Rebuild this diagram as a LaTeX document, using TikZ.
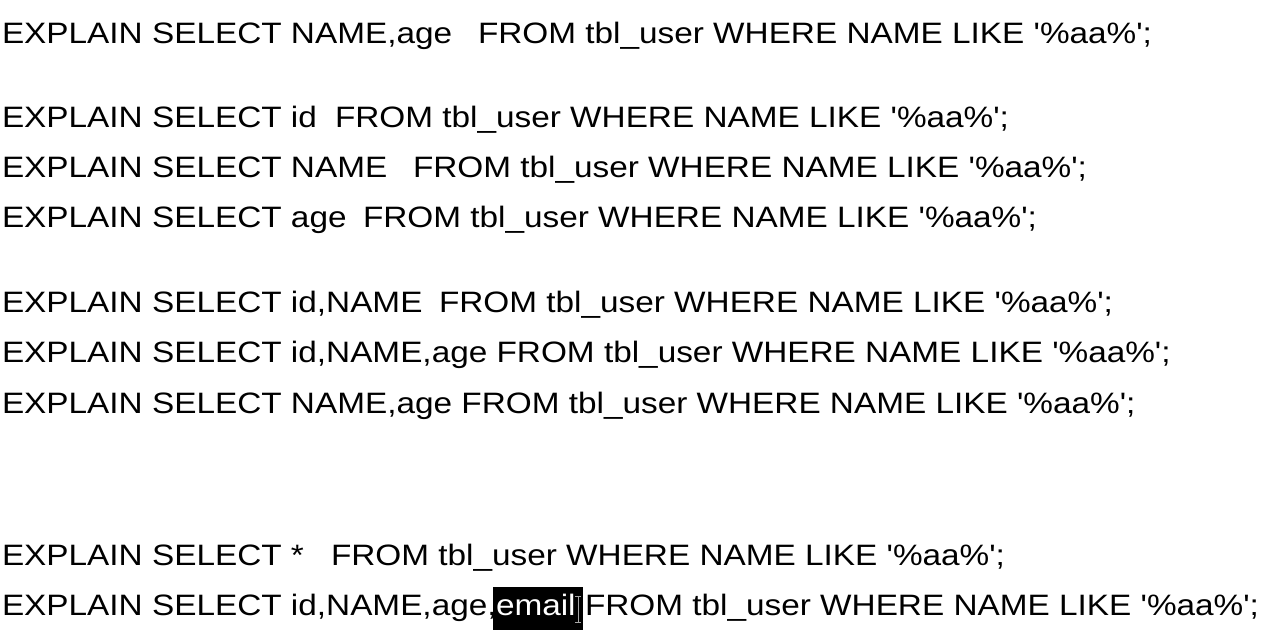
\documentclass[tikz,border=0pt]{standalone}
\usepackage{fontspec}
\setmainfont{Liberation Sans}[FakeStretch=1.13,Ligatures=TeXOff]
\begin{document}
\begin{tikzpicture}[x=1pt,y=-1pt,
  sql/.style={anchor=base west,inner sep=0pt,outer sep=0pt,font=\fontsize{29.5}{31}\selectfont}]
\useasboundingbox[fill=white] (0,0) rectangle (1272,630);
\newcommand\rest{FROM tbl\_user WHERE NAME LIKE '\%aa\%';}
\node[sql] (l1) at (2,43) {EXPLAIN SELECT NAME,age};
\node[sql] (r1) at (478,43) {\rest};
\node[sql] (l2) at (2,127) {EXPLAIN SELECT id};
\node[sql] (r2) at (335,127) {\rest};
\node[sql] (l3) at (2,177) {EXPLAIN SELECT NAME};
\node[sql] (r3) at (413,177) {\rest};
\node[sql] (l4) at (2,227) {EXPLAIN SELECT age};
\node[sql] (r4) at (363,227) {\rest};
\node[sql] (l5) at (2,312) {EXPLAIN SELECT id,NAME};
\node[sql] (r5) at (439,312) {\rest};
\node[sql] (l6) at (2,362) {EXPLAIN SELECT id,NAME,age \rest};
\node[sql] (l7) at (2,413) {EXPLAIN SELECT NAME,age \rest};
\node[sql] (l8) at (2,565) {EXPLAIN SELECT *};
\node[sql] (r8) at (331,565) {\rest};
\node[sql] (l9) at (2,615) {EXPLAIN SELECT id,NAME,age,};
\fill[black] (493,587) rectangle (583,630);
\node[sql,text=white] (em) at (496,615) {email};
\node[sql] (r9) at (585,615) {\rest};
\draw[gray!70,line width=1pt] (578,596) -- (578,622) (575,596) -- (581,596) (575,622) -- (581,622);
\end{tikzpicture}
\end{document}
